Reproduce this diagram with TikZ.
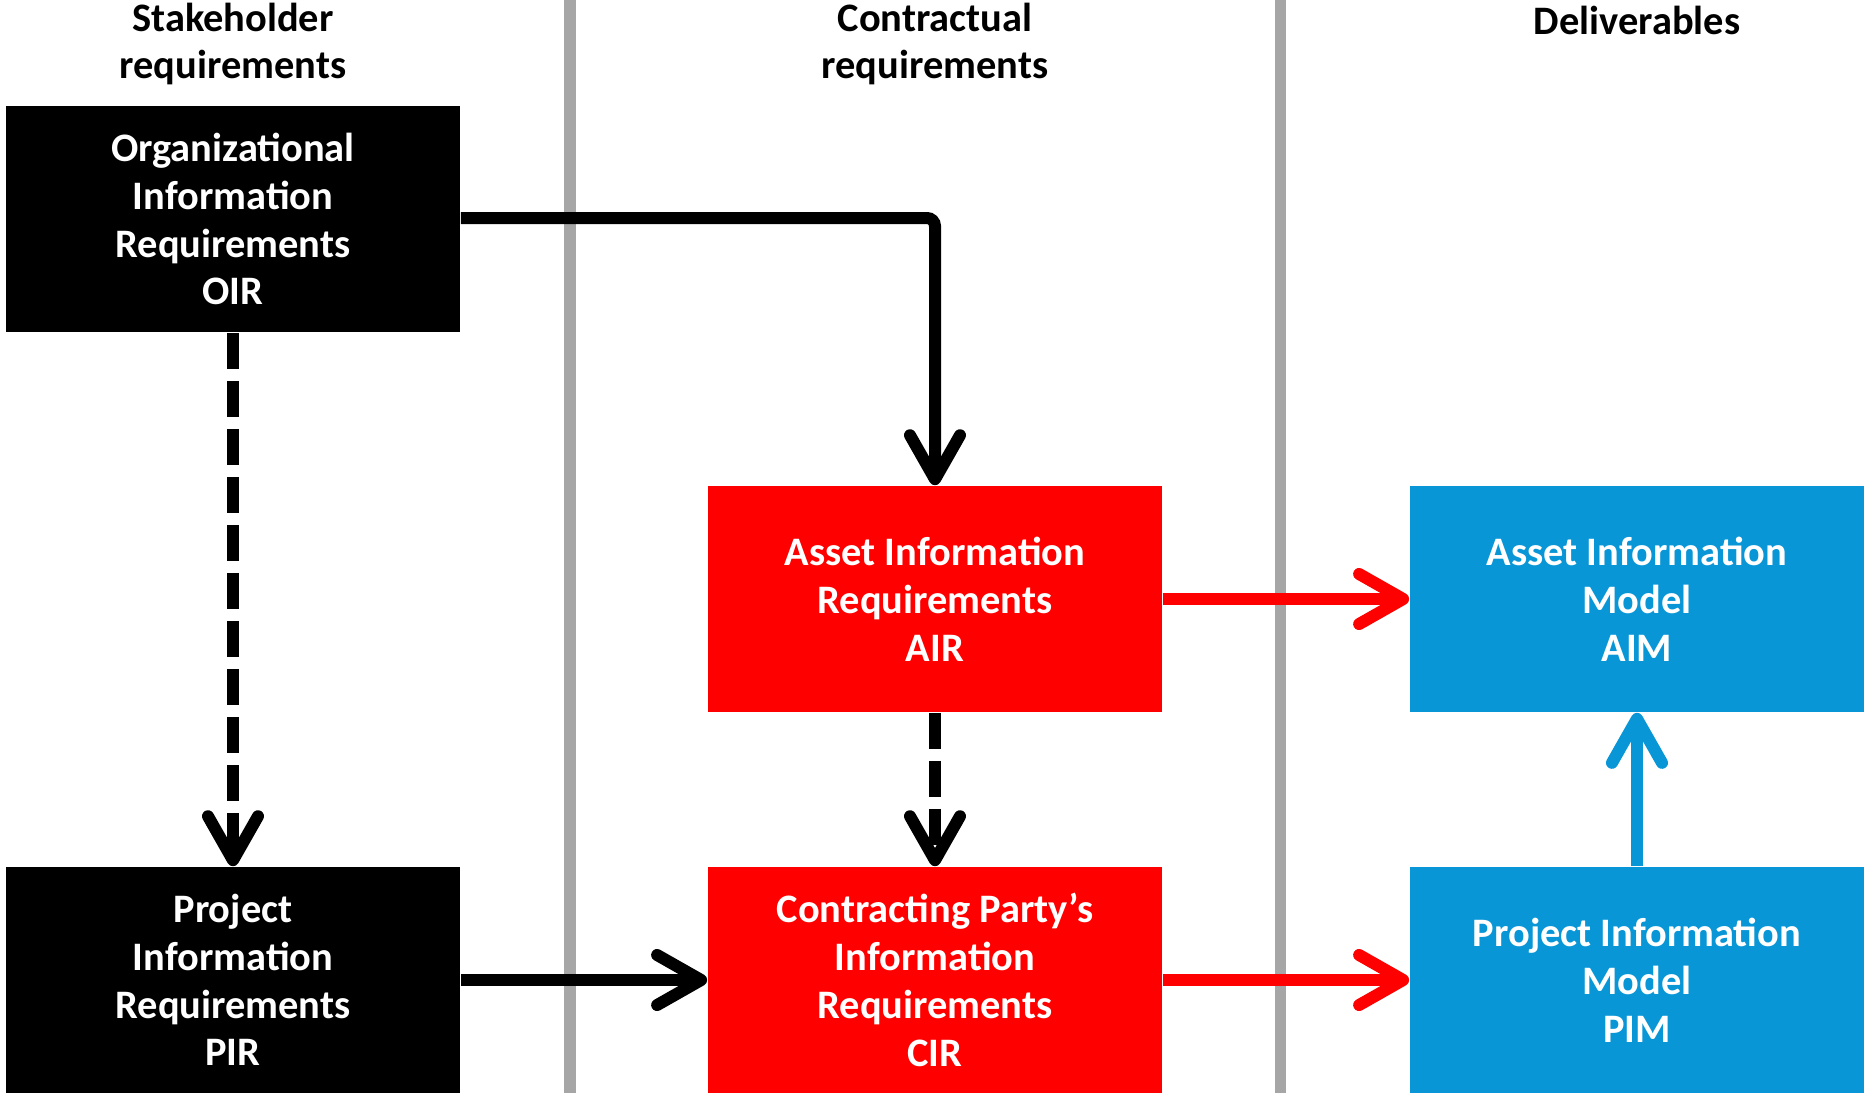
\documentclass[tikz,border=0pt]{standalone}
\usepackage{fontspec}
\setmainfont{Carlito}
\usetikzlibrary{arrows.meta}
\definecolor{reqred}{RGB}{255,0,0}
\definecolor{modelblue}{RGB}{9,150,214}
\definecolor{lanegray}{RGB}{166,166,166}
\tikzset{
  box/.style={minimum width=4.54cm, minimum height=2.26cm, inner sep=0pt,
    align=center, text=white, font=\bfseries\fontsize{11.5}{13.6}\selectfont},
  lanehead/.style={align=center, font=\bfseries\fontsize{11.5}{13.6}\selectfont},
  flow/.style={line width=0.12cm, -{Straight Barb[length=0.44cm,width=0.5cm,round]}},
  flowdash/.style={flow, dash pattern=on 0.36cm off 0.12cm}
}
\begin{document}
\begin{tikzpicture}[x=0.01cm,y=-0.01cm]
  \useasboundingbox (0,0) rectangle (1865,1096);
  % lanes
  \draw [lanegray, line width=0.11cm] (570,0) -- (570,1093);
  \draw [lanegray, line width=0.11cm] (1280,0) -- (1280,1093);
  \node [lanehead] (hstake) at (233,44) {Stakeholder\\requirements};
  \node [lanehead] (hcontr) at (935,44) {Contractual\\requirements};
  \node [lanehead] (hdeliv) at (1637,20) {Deliverables};
  % boxes
  \node [box, fill=black] (oir) at (233,219) {Organizational\\Information\\Requirements\\OIR};
  \node [box, fill=black] (pir) at (233,980) {Project\\Information\\Requirements\\PIR};
  \node [box, fill=reqred] (air) at (935,599) {Asset Information\\Requirements\\AIR};
  \node [box, fill=reqred] (cir) at (935,980) {Contracting Party’s\\Information\\Requirements\\CIR};
  \node [box, fill=modelblue] (aim) at (1637,599) {Asset Information\\Model\\AIM};
  \node [box, fill=modelblue] (pim) at (1637,980) {Project Information\\Model\\PIM};
  % connectors
  \draw [flow, rounded corners=0.08cm] (oir.east |- 0,218) -| (air.north);
  \draw [flowdash] (oir.south) -- (pir.north);
  \draw [flowdash] (air.south) -- (cir.north);
  \draw [flow] (pir.east) -- (cir.west);
  \draw [flow, reqred] (air.east) -- (aim.west);
  \draw [flow, reqred] (cir.east) -- (pim.west);
  \draw [flow, modelblue] (pim.north) -- (aim.south);
\end{tikzpicture}
\end{document}
